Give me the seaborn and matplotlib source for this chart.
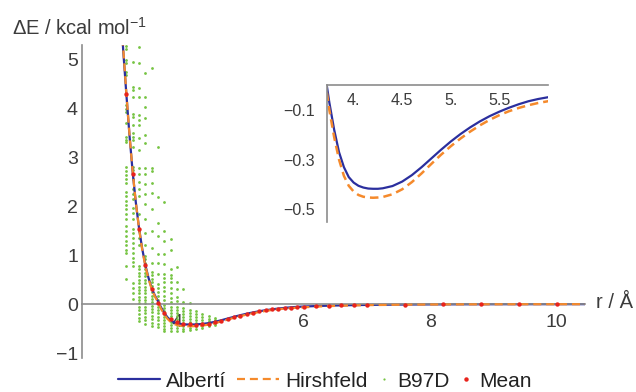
import pandas as pd
import matplotlib
matplotlib.use("Agg")
import matplotlib.pyplot as plt
import seaborn as sns
from matplotlib.lines import Line2D

# === Model curves ===
r_curve = [3.10, 3.15, 3.20, 3.25, 3.30, 3.35, 3.40, 3.45, 3.50, 3.55, 3.60, 3.65, 3.70,
           3.75, 3.80, 3.85, 3.90, 3.95, 4.00, 4.05, 4.10, 4.15, 4.20, 4.25, 4.30,
           4.40, 4.50, 4.60, 4.70, 4.80, 4.90, 5.00, 5.10, 5.20, 5.30, 5.40, 5.50,
           5.60, 5.70, 5.80, 5.90, 6.00, 6.25, 6.50, 6.75, 7.00, 7.50, 8.00, 8.50,
           9.00, 9.50, 10.00, 10.45]
alberti = [6.3, 5.2, 4.3, 3.45, 2.70, 2.08, 1.56, 1.14, 0.80, 0.54, 0.33, 0.18, 0.06,
           -0.07, -0.18, -0.27, -0.33, -0.37, -0.392, -0.405, -0.412, -0.416, -0.417, -0.417, -0.415,
           -0.406, -0.388, -0.362, -0.330, -0.295, -0.260, -0.227, -0.197, -0.170, -0.146, -0.125, -0.107,
           -0.091, -0.077, -0.065, -0.056, -0.049, -0.037, -0.028, -0.021, -0.016, -0.009, -0.0055, -0.0035,
           -0.0023, -0.0016, -0.0011, -0.0008]
hirshfeld = [6.4, 5.25, 4.32, 3.47, 2.71, 2.08, 1.55, 1.12, 0.78, 0.52, 0.31, 0.16, 0.04,
             -0.10, -0.21, -0.30, -0.365, -0.405, -0.428, -0.442, -0.449, -0.452, -0.453, -0.452, -0.450,
             -0.439, -0.419, -0.390, -0.355, -0.317, -0.280, -0.246, -0.215, -0.187, -0.162, -0.140, -0.121,
             -0.105, -0.092, -0.081, -0.072, -0.065, -0.048, -0.036, -0.027, -0.021, -0.013, -0.008, -0.005,
             -0.0035, -0.0025, -0.0018, -0.0013]

# === Mean of B97D points ===
mean_r = [3.2, 3.3, 3.4, 3.5, 3.6, 3.7, 3.8, 3.9, 4.0, 4.1,
          4.2, 4.3, 4.4, 4.5, 4.6, 4.7, 4.8, 4.9, 5.0, 5.1,
          5.2, 5.3, 5.4, 5.5, 5.6, 5.7, 5.8, 5.9, 6.0,
          6.2, 6.4, 6.6, 6.8, 7.0, 7.6, 8.2, 8.8, 9.4, 10.0]
mean_e = [4.30, 2.67, 1.54, 0.80, 0.31, 0.03, -0.18, -0.31, -0.37, -0.40,
          -0.415, -0.42, -0.415, -0.40, -0.375, -0.345, -0.305, -0.27, -0.235, -0.20,
          -0.172, -0.147, -0.126, -0.108, -0.093, -0.080, -0.069, -0.060, -0.053,
          -0.041, -0.032, -0.025, -0.020, -0.016, -0.008, -0.005, -0.003, -0.002, -0.001]

# === B97D points, one column per distance ===
b97d_32 = [5.28, 5.22, 5.00, 4.94, 4.75, 4.68, 4.07, 4.00, 3.93, 3.70, 3.42, 3.36, 3.31, 2.80, 2.72,
           2.64, 2.56, 2.48, 2.29, 2.21, 2.12, 2.03, 1.94, 1.85, 1.75, 1.60, 1.50, 1.40, 1.30, 1.20,
           1.11, 1.05, 0.78, 0.51]
b97d_33 = [4.96, 4.45, 4.38, 4.24, 3.90, 3.82, 3.66, 3.50, 3.42, 3.35, 3.22, 2.80, 2.74, 2.66, 2.57,
           2.36, 2.26, 2.15, 1.96, 1.86, 1.75, 1.54, 1.45, 1.35, 1.25, 1.15, 1.05, 0.95, 0.86, 0.78,
           0.43, 0.33, 0.22, 0.10]
b97d_34 = [5.27, 4.93, 4.42, 4.24, 3.87, 3.77, 3.66, 3.39, 3.15, 2.78, 2.66, 2.50, 2.36, 2.21, 1.84,
           1.50, 1.35, 1.20, 0.78, 0.71, 0.64, 0.57, 0.50, 0.43, 0.36, 0.29, 0.22, 0.15, 0.08, 0.02,
           -0.05, -0.12, -0.20, -0.28, -0.35]
b97d_35 = [4.73, 4.24, 4.04, 3.81, 3.46, 3.29, 2.78, 2.66, 2.45, 2.25, 2.05, 1.75, 1.45, 1.20, 0.98,
           0.92, 0.85, 0.78, 0.71, 0.64, 0.57, 0.50, 0.43, 0.36, 0.29, 0.22, 0.15, 0.08, 0.02, -0.05,
           -0.12, -0.19, -0.26, -0.33, -0.40]
b97d_36 = [4.83, 2.78, 2.72, 2.48, 2.28, 1.95, 1.50, 1.15, 0.85, 0.66, 0.59, 0.52, 0.45, 0.38, 0.31,
           0.24, 0.17, 0.10, 0.04, -0.03, -0.10, -0.17, -0.24, -0.31, -0.38, -0.44]
b97d_37 = [3.22, 2.20, 1.67, 1.40, 1.02, 0.85, 0.62, 0.42, 0.32, 0.24, 0.16, 0.09, 0.02, -0.05, -0.12,
           -0.19, -0.26, -0.33, -0.40, -0.47]
b97d_38 = [2.08, 1.50, 1.30, 1.02, 0.82, 0.62, 0.53, 0.45, 0.36, 0.26, 0.16, 0.08, -0.02, -0.08, -0.14,
           -0.20, -0.26, -0.32, -0.38, -0.44, -0.50, -0.55]
b97d_39 = [1.34, 1.10, 0.72, 0.60, 0.53, 0.45, 0.32, 0.22, 0.12, 0.05, -0.06, -0.12, -0.18, -0.24,
           -0.30, -0.36, -0.42, -0.48, -0.54]
b97d_40 = [0.75, 0.45, 0.31, 0.15, 0.06, -0.06, -0.12, -0.18, -0.24, -0.30, -0.36, -0.42, -0.48, -0.54]
b97d_41 = [0.30, 0.04, -0.08, -0.14, -0.20, -0.26, -0.32, -0.38, -0.44, -0.50, -0.55]
b97d_42 = [0.03, -0.12, -0.18, -0.24, -0.30, -0.36, -0.42, -0.48, -0.53]
b97d_43 = [-0.15, -0.20, -0.26, -0.32, -0.38, -0.44, -0.50]
b97d_44 = [-0.20, -0.26, -0.32, -0.38, -0.44, -0.48]
b97d_45 = [-0.25, -0.30, -0.35, -0.40, -0.45]
b97d_46 = [-0.28, -0.33, -0.38, -0.42]
b97d_r = [3.2, 3.3, 3.4, 3.5, 3.6, 3.7, 3.8, 3.9, 4.0, 4.1, 4.2, 4.3, 4.4, 4.5, 4.6]
b97d_cols = [b97d_32, b97d_33, b97d_34, b97d_35, b97d_36, b97d_37, b97d_38, b97d_39,
             b97d_40, b97d_41, b97d_42, b97d_43, b97d_44, b97d_45, b97d_46]

df_b97d = pd.concat([pd.DataFrame({"r": r, "E": col}) for r, col in zip(b97d_r, b97d_cols)],
                    ignore_index=True)

# === Style ===
BLUE = "#2b2f9e"
ORANGE = "#f58a2c"
GREEN = "#76c442"
RED = "#e8231c"
AXIS = "#8c8c8c"
TEXT = "#3c3c3c"

sns.set_style("white")
plt.rcParams["font.family"] = ["Liberation Sans", "DejaVu Sans"]
plt.rcParams["mathtext.fontset"] = "custom"
plt.rcParams["mathtext.rm"] = "Liberation Sans"
plt.rcParams["mathtext.default"] = "regular"

fig = plt.figure(figsize=(6.36, 3.92), dpi=100)
ax = fig.add_axes([0.129, 0.087, 0.791, 0.798])

sns.scatterplot(data=df_b97d, x="r", y="E", ax=ax, color=GREEN, s=4, linewidth=0,
                zorder=1, legend=False)
sns.lineplot(x=r_curve, y=alberti, ax=ax, color=BLUE, lw=1.6, sort=False, estimator=None, zorder=2)
sns.lineplot(x=r_curve, y=hirshfeld, ax=ax, color=ORANGE, lw=1.6, sort=False, estimator=None, zorder=3)
ax.lines[-1].set_dashes([3.6, 2.2])
sns.scatterplot(x=mean_r, y=mean_e, ax=ax, color=RED, s=10, linewidth=0, zorder=4, legend=False)

ax.set_xlim(2.5, 10.45)
ax.set_ylim(-1.1, 5.3)
ax.set_xlabel("")
ax.set_ylabel("")
for side in ["top", "right"]:
    ax.spines[side].set_visible(False)
ax.spines["bottom"].set_position(("data", 0))
for side in ["bottom", "left"]:
    ax.spines[side].set_color(AXIS)
    ax.spines[side].set_linewidth(1.2)
ax.set_xticks([4, 6, 8, 10])
ax.set_yticks([-1, 0, 1, 2, 3, 4, 5])
ax.tick_params(axis="x", length=0, pad=7, labelsize=14, labelcolor=TEXT)
ax.tick_params(axis="y", length=0, pad=3, labelsize=14, labelcolor=TEXT)
ax.patch.set_alpha(0)

fig.text(12 / 636, 1 - 35 / 392, "ΔE / kcal mol$^{-1}$", ha="left", va="baseline",
         fontsize=14.5, color=TEXT)
fig.text(596 / 636, 1 - 303 / 392, "r / Å", ha="left", va="center", fontsize=14.5, color=TEXT)

# === Inset ===
ax_in = fig.add_axes([0.514, 0.434, 0.3475, 0.349])
sns.lineplot(x=r_curve, y=alberti, ax=ax_in, color=BLUE, lw=1.6, sort=False, estimator=None)
sns.lineplot(x=r_curve, y=hirshfeld, ax=ax_in, color=ORANGE, lw=1.8, sort=False, estimator=None)
ax_in.lines[-1].set_dashes([3.4, 2.0])
ax_in.set_xlim(3.725, 6.0)
ax_in.set_ylim(-0.55, 0)
ax_in.set_xlabel("")
ax_in.set_ylabel("")
ax_in.patch.set_alpha(0)
for side in ["top", "right"]:
    ax_in.spines[side].set_visible(False)
ax_in.spines["bottom"].set_position(("data", 0))
for side in ["bottom", "left"]:
    ax_in.spines[side].set_color(AXIS)
    ax_in.spines[side].set_linewidth(1.2)
ax_in.set_xticks([4, 4.5, 5, 5.5], ["4.", "4.5", "5.", "5.5"])
ax_in.set_yticks([-0.1, -0.3, -0.5], ["\u22120.1", "\u22120.3", "\u22120.5"])
ax_in.tick_params(axis="x", length=0, pad=6, labelsize=11.5, labelcolor=TEXT)
ax_in.tick_params(axis="y", length=0, pad=9, labelsize=11.5, labelcolor=TEXT)

# === Legend: lines and dots use different handle lengths ===
line_handles = [
    Line2D([], [], color=BLUE, lw=1.6),
    Line2D([], [], color=ORANGE, lw=1.6, dashes=[3.6, 2.2]),
]
dot_handles = [
    Line2D([], [], color=GREEN, lw=0, marker="o", markersize=1.6, markeredgewidth=0),
    Line2D([], [], color=RED, lw=0, marker="o", markersize=3.2, markeredgewidth=0),
]
leg_kw = dict(frameon=False, fontsize=15, borderpad=0, borderaxespad=0, ncol=2,
              handletextpad=0.33, columnspacing=0.5, labelcolor="#222222")
leg1 = fig.legend(line_handles, ["Albertí", "Hirshfeld"], loc="center right",
                  bbox_to_anchor=(368 / 636, 0.028), handlelength=2.0, **leg_kw)
leg2 = fig.legend(dot_handles, ["B97D", "Mean"], loc="center left",
                  bbox_to_anchor=(378 / 636, 0.028), handlelength=0.6, **leg_kw)

fig.savefig("out.png", dpi=100)
